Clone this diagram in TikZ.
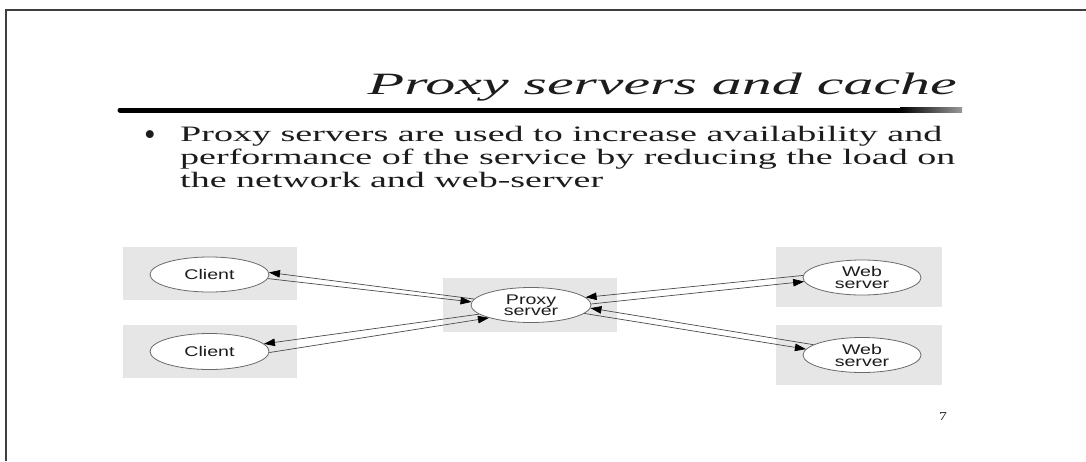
\documentclass[tikz,border=0pt]{standalone}
\usepackage{fontspec}
\setmainfont{Liberation Serif}
\newfontfamily\lblfont{Liberation Sans}
\usetikzlibrary{arrows.meta,shapes.geometric}

\definecolor{panel}{HTML}{E6E6E6}
\definecolor{edge}{HTML}{4A4A4A}
\definecolor{rim}{HTML}{6A6A6A}
\definecolor{frame}{HTML}{3F3F3F}
\definecolor{ink}{HTML}{1C1C1C}

% horizontally widened labels (one line / two lines with a given line pitch)
\newcommand\onel[1]{\scalebox{1.4}[1]{#1}}
\newcommand\twol[3]{\scalebox{1.4}[1]{\vbox{\baselineskip=#3\lineskiplimit=-20pt\halign{\hfil##\hfil\cr#1\cr#2\cr}}}}
% a text line stretched to a given width
\newcommand\wideto[2]{\resizebox{#1}{\height}{#2}}

\begin{document}
\begin{tikzpicture}[x=1pt, y=-1pt,
  host/.style={ellipse, draw=rim, line width=0.8pt, fill=white, inner sep=0pt,
    minimum width=119pt, minimum height=35pt, text=ink,
    font=\lblfont\fontsize{14pt}{14pt}\selectfont},
  link/.style={draw=edge, line width=0.7pt, -{Triangle[length=11pt,width=7.5pt,color=black]}},
  bodytext/.style={anchor=base west, inner sep=0pt, text=ink,
    font=\fontsize{22pt}{22pt}\selectfont},
  shelf/.style={fill=panel}]
\useasboundingbox (0,0) rectangle (1086,461);
\fill[white] (0,0) rectangle (1086,461);

% slide frame
\draw[frame, line width=2pt] (6,461) -- (6,10) -- (1086,10);

% title and rule
\node[anchor=base east, inner sep=0pt, text=ink] (title) at (957,94)
  {\wideto{589pt}{\fontsize{31pt}{31pt}\selectfont\itshape Proxy servers and cache}};
\draw[black, line width=5pt, line cap=round] (120,110) -- (901,110);
\shade[left color=black, right color=black!40] (900,107.5) rectangle (962,112.5);

% bullet text
\node[anchor=base, inner sep=0pt, text=ink, font=\fontsize{22pt}{22pt}\selectfont] (dot) at (150,145) {\scalebox{1.5}{•}};
\node[bodytext] (l1) at (180,141) {\wideto{762pt}{Proxy servers are used to increase availability and}};
\node[bodytext] (l2) at (180,164) {\wideto{775pt}{performance of the service by reducing the load on}};
\node[bodytext] (l3) at (180,187) {\wideto{423pt}{the network and web-server}};

% grey panels behind the hosts
\fill[shelf] (123,247) rectangle (297,300);
\fill[shelf] (123,325) rectangle (297,378);
\fill[shelf] (443,278) rectangle (617,332);
\fill[shelf] (776,247) rectangle (942,307);
\fill[shelf] (776,325) rectangle (942,385);

% hosts
\node[host] (c1) at (209.5,274.5) {\onel{Client}};
\node[host, minimum height=36pt] (c2) at (209.5,351.5) {\onel{Client}};
\node[host, minimum width=120pt] (px) at (531,305) {\twol{Proxy}{server}{10.5pt}};
\node[host, minimum width=118pt] (w1) at (862,277.5) {\twol{Web}{server}{12pt}};
\node[host, minimum width=118pt] (w2) at (862,355) {\twol{Web}{server}{12pt}};

% request / response pairs
\draw[link] (px.174) -- (c1.2);
\draw[link] (c1.-4) -- (px.177);
\draw[link] (px.190) -- (c2.8);
\draw[link] (c2.-1) -- (px.197);
\draw[link] (w1.178) -- (px.8);
\draw[link] (px.1) -- (w1.184);
\draw[link] (w2.168) -- (px.-3);
\draw[link] (px.-9) -- (w2.174);

% page number
\node[anchor=base, inner sep=0pt, text=ink, font=\fontsize{12pt}{12pt}\selectfont] (pg) at (943,420) {\scalebox{1.3}[1]{7}};
\end{tikzpicture}
\end{document}
